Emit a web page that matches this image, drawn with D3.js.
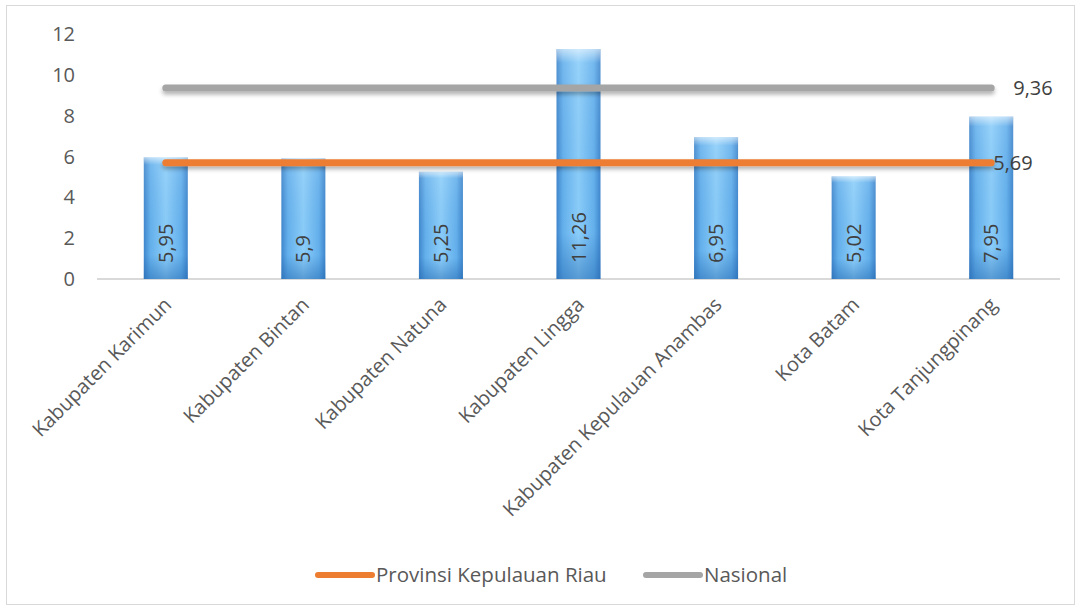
<!DOCTYPE html>
<html>
<head>
<meta charset="utf-8">
<script src="https://cdn.jsdelivr.net/npm/d3@7"></script>
<style>
  body { margin: 0; background: #fff; }
  text { font-family: "Open Sans", "Liberation Sans", sans-serif; }
</style>
</head>
<body>
<script>
// data
const categories = ["Kabupaten Karimun", "Kabupaten Bintan", "Kabupaten Natuna", "Kabupaten Lingga",
  "Kabupaten Kepulauan Anambas", "Kota Batam", "Kota Tanjungpinang"]
const barValues = [5.95, 5.9, 5.25, 11.26, 6.95, 5.02, 7.95]
const barLabels = ["5,95", "5,9", "5,25", "11,26", "6,95", "5,02", "7,95"]
const provinsi = [5.69, 5.69, 5.69, 5.69, 5.69, 5.69, 5.69]
const nasional = [9.36, 9.36, 9.36, 9.36, 9.36, 9.36, 9.36]
const provinsiLabel = "5,69"
const nasionalLabel = "9,36"
const yTicks = [0, 2, 4, 6, 8, 10, 12]

const W = 1081, H = 609
const svg = d3.select("body").append("svg").attr("width", W).attr("height", H)
const defs = svg.append("defs")

// gradient batang
const gH = defs.append("linearGradient").attr("id", "barH").attr("x1", 0).attr("x2", 1).attr("y1", 0).attr("y2", 0)
gH.append("stop").attr("offset", "0%").attr("stop-color", "#3f86cc")
gH.append("stop").attr("offset", "15%").attr("stop-color", "#64b0ec")
gH.append("stop").attr("offset", "50%").attr("stop-color", "#8bcdf9")
gH.append("stop").attr("offset", "85%").attr("stop-color", "#64b0ec")
gH.append("stop").attr("offset", "100%").attr("stop-color", "#3f86cc")

const gV = defs.append("linearGradient").attr("id", "barV").attr("x1", 0).attr("x2", 0).attr("y1", 0).attr("y2", 1)
gV.append("stop").attr("offset", "0%").attr("stop-color", "#ffffff").attr("stop-opacity", 0.6)
gV.append("stop").attr("offset", "6%").attr("stop-color", "#ffffff").attr("stop-opacity", 0.1)
gV.append("stop").attr("offset", "80%").attr("stop-color", "#1b5fa8").attr("stop-opacity", 0)
gV.append("stop").attr("offset", "100%").attr("stop-color", "#1b5fa8").attr("stop-opacity", 0.45)

// bayangan garis (userSpaceOnUse karena garis datar tingginya 0)
const shadow = defs.append("filter").attr("id", "shadow").attr("filterUnits", "userSpaceOnUse")
  .attr("x", 0).attr("y", 0).attr("width", W).attr("height", H)
shadow.append("feDropShadow").attr("dx", 0).attr("dy", 3).attr("stdDeviation", 2)
  .attr("flood-color", "#000").attr("flood-opacity", 0.3)

// border
svg.append("rect").attr("x", 6.5).attr("y", 5.5).attr("width", 1068).attr("height", 599)
  .attr("fill", "none").attr("stroke", "#d9d9d9").attr("stroke-width", 1)

const x = d3.scaleBand().domain(categories).range([97, 1060])
const y = d3.scaleLinear().domain([0, 12]).range([279, 34])
const barW = 44

// y axis labels
svg.selectAll(".ytick").data(yTicks).enter().append("text")
  .attr("x", 75).attr("y", d => y(d)).attr("dy", "0.35em")
  .attr("text-anchor", "end").attr("font-size", 20).attr("fill", "#595959")
  .text(d => d)

// baseline
svg.append("line").attr("x1", 97).attr("x2", 1060).attr("y1", y(0)).attr("y2", y(0))
  .attr("stroke", "#d9d9d9").attr("stroke-width", 2)

// bars
const bars = svg.selectAll(".bar").data(categories).enter().append("g")
bars.append("rect")
  .attr("x", d => x(d) + x.bandwidth() / 2 - barW / 2)
  .attr("y", (d, i) => y(barValues[i]))
  .attr("width", barW)
  .attr("height", (d, i) => y(0) - y(barValues[i]))
  .attr("fill", "url(#barH)")
bars.append("rect")
  .attr("x", d => x(d) + x.bandwidth() / 2 - barW / 2)
  .attr("y", (d, i) => y(barValues[i]))
  .attr("width", barW)
  .attr("height", (d, i) => y(0) - y(barValues[i]))
  .attr("fill", "url(#barV)")

// label batang (rotasi)
bars.append("text")
  .attr("transform", d => "translate(" + (x(d) + x.bandwidth() / 2) + "," + (y(0) - 16) + ") rotate(-90)")
  .attr("dy", "0.35em")
  .attr("text-anchor", "start")
  .attr("font-size", 20).attr("fill", "#404040")
  .text((d, i) => barLabels[i])

// lines
const line = d3.line().x(d => x(d[0]) + x.bandwidth() / 2).y(d => y(d[1]))
svg.append("path").datum(categories.map((c, i) => [c, nasional[i]]))
  .attr("d", line).attr("fill", "none").attr("stroke", "#a5a5a5").attr("stroke-width", 7)
  .attr("stroke-linecap", "round").attr("filter", "url(#shadow)")
svg.append("path").datum(categories.map((c, i) => [c, provinsi[i]]))
  .attr("d", line).attr("fill", "none").attr("stroke", "#ed7d31").attr("stroke-width", 7)
  .attr("stroke-linecap", "round").attr("filter", "url(#shadow)")

const last = categories[categories.length - 1]
svg.append("text").attr("x", x(last) + x.bandwidth() / 2 + 22).attr("y", y(nasional[6]))
  .attr("dy", "0.35em").attr("font-size", 20).attr("fill", "#404040").text(nasionalLabel)
svg.append("text").attr("x", x(last) + x.bandwidth() / 2 + 2).attr("y", y(provinsi[6]))
  .attr("dy", "0.35em").attr("font-size", 20).attr("fill", "#404040").text(provinsiLabel)

// x labels
svg.selectAll(".xlab").data(categories).enter().append("text")
  .attr("transform", d => "translate(" + (x(d) + x.bandwidth() / 2 + 2) + "," + (y(0) + 22) + ") rotate(-45)")
  .attr("text-anchor", "end").attr("dy", "0.35em")
  .attr("font-size", 20).attr("fill", "#595959")
  .text(d => d)

// legend
const legend = [["Provinsi Kepulauan Riau", "#ed7d31", 318], ["Nasional", "#a5a5a5", 646]]
legend.forEach(l => {
  svg.append("line").attr("x1", l[2]).attr("x2", l[2] + 54).attr("y1", 575).attr("y2", 575)
    .attr("stroke", l[1]).attr("stroke-width", 6).attr("stroke-linecap", "round")
  svg.append("text").attr("x", l[2] + 58).attr("y", 575).attr("dy", "0.35em")
    .attr("font-size", 20.5).attr("fill", "#595959").text(l[0])
})
</script>
</body>
</html>
